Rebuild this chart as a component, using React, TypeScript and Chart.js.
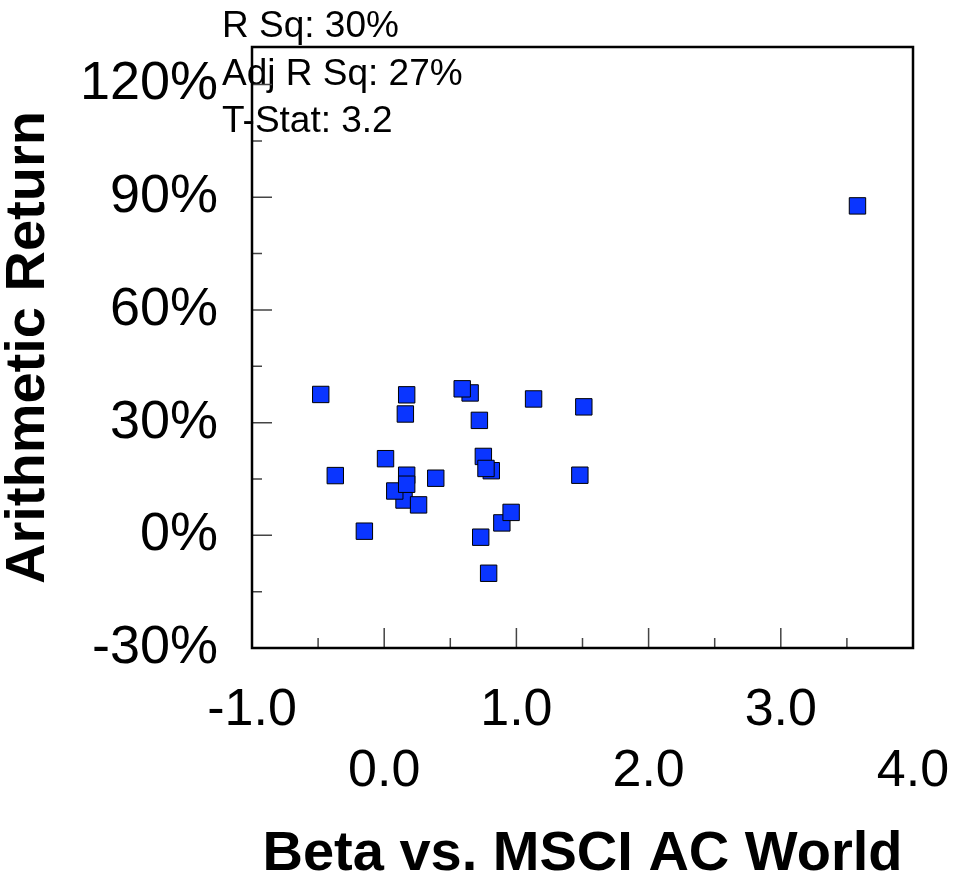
import React, { useEffect, useRef } from "react";
import { Chart, registerables } from "chart.js";

Chart.register(...registerables);

// Data
const betaValues = [
  -0.48, 0.17, 0.65, 0.59, 1.13, 1.51, 0.16, 0.72, 0.01, 0.75, -0.37, 0.81, 0.77,
  1.48, 0.15, 0.26, 0.08, 0.17, 0.17, 0.39, -0.15, 0.89, 0.96, 0.73, 0.79, 3.58,
];
const returnValues = [
  37.5, 37.4, 37.9, 39.0, 36.3, 34.2, 32.3, 30.6, 20.4, 21.0, 15.9, 17.2, 17.8,
  16.0, 9.4, 8.1, 11.8, 16.0, 13.6, 15.2, 1.1, 3.3, 6.1, -0.5, -10.1, 87.7,
];

const xTickValues = [-1, 0, 1, 2, 3, 4];
const xMinorTicks = [-0.5, 0.5, 1.5, 2.5, 3.5];
const yTickValues = [-30, 0, 30, 60, 90, 120];
const yMinorTicks = [-15, 15, 45, 75, 105];

const statLines = ["R Sq: 30%", "Adj R Sq: 27%", "T-Stat: 3.2"];
const xTitle = "Beta vs. MSCI AC World";
const yTitle = "Arithmetic Return";

const FONT = "'Liberation Sans', Arial, sans-serif";

const framePlugin = {
  id: "frameTicks",
  afterDraw(chart: any) {
    const { ctx, chartArea } = chart;
    const xs = chart.scales.x;
    const ys = chart.scales.y;
    const { left, right, top, bottom } = chartArea;
    ctx.save();

    // stats text
    ctx.fillStyle = "#000";
    ctx.font = `37px ${FONT}`;
    ctx.textAlign = "left";
    ctx.textBaseline = "alphabetic";
    statLines.forEach((t, i) => {
      ctx.fillText(t, left - 30, top - 10 + i * 47.5);
    });

    // ticks (inward)
    ctx.strokeStyle = "#444";
    ctx.lineWidth = 1.5;
    ctx.beginPath();
    xTickValues.forEach((v) => {
      const px = xs.getPixelForValue(v);
      ctx.moveTo(px, bottom);
      ctx.lineTo(px, bottom - 20);
    });
    xMinorTicks.forEach((v) => {
      const px = xs.getPixelForValue(v);
      ctx.moveTo(px, bottom);
      ctx.lineTo(px, bottom - 10);
    });
    yTickValues.forEach((v) => {
      const py = ys.getPixelForValue(v);
      ctx.moveTo(left, py);
      ctx.lineTo(left + 20, py);
    });
    yMinorTicks.forEach((v) => {
      const py = ys.getPixelForValue(v);
      ctx.moveTo(left, py);
      ctx.lineTo(left + 10, py);
    });
    ctx.stroke();

    // frame
    ctx.strokeStyle = "#000";
    ctx.lineWidth = 2.5;
    ctx.strokeRect(left, top, right - left, bottom - top);
    ctx.restore();
  },
};

export default function App() {
  const ref = useRef<HTMLCanvasElement | null>(null);

  useEffect(() => {
    document.body.style.margin = "0";
    const canvas = ref.current;
    if (!canvas) return;
    const points = betaValues.map((b, i) => ({ x: b, y: returnValues[i] }));
    const chart = new Chart(canvas, {
      type: "scatter",
      data: {
        datasets: [
          {
            data: points,
            pointStyle: "rect",
            pointRadius: 11.6,
            pointHoverRadius: 11.6,
            backgroundColor: "#0A35FF",
            borderColor: "#000",
            borderWidth: 1,
          },
        ],
      },
      options: {
        animation: false,
        responsive: false,
        devicePixelRatio: 1,
        events: [],
        layout: { padding: { top: 47, right: 42, bottom: 0, left: 0 } },
        plugins: {
          legend: { display: false },
          tooltip: { enabled: false },
        },
        scales: {
          x: {
            type: "linear",
            min: -1,
            max: 4,
            grid: { display: false, drawTicks: false },
            border: { display: false },
            afterBuildTicks: (scale: any) => {
              scale.ticks = xTickValues.map((v) => ({ value: v }));
            },
            afterFit: (scale: any) => {
              scale.height = 227;
              scale.paddingLeft = 0;
              scale.paddingRight = 0;
            },
            ticks: {
              autoSkip: false,
              maxRotation: 0,
              minRotation: 0,
              padding: 32,
              color: "#000",
              font: { family: FONT, size: 52, lineHeight: 1.175 },
              callback: (value: any, index: number) => {
                const label = Number(value).toFixed(1);
                return index % 2 === 0 ? [label] : ["", label];
              },
            },
            title: {
              display: true,
              text: xTitle,
              color: "#000",
              font: { family: FONT, size: 56, weight: "bold", lineHeight: 1 },
              padding: { top: 0, bottom: -8 },
            },
          },
          y: {
            type: "linear",
            min: -30,
            max: 130,
            grid: { display: false, drawTicks: false },
            border: { display: false },
            afterBuildTicks: (scale: any) => {
              scale.ticks = yTickValues.map((v) => ({ value: v }));
            },
            afterFit: (scale: any) => {
              scale.width = 252;
              scale.paddingTop = 0;
              scale.paddingBottom = 0;
            },
            ticks: {
              autoSkip: false,
              padding: 34,
              color: "#000",
              font: { family: FONT, size: 54 },
              callback: (value: any) => `${value}%`,
            },
            title: {
              display: true,
              text: yTitle,
              color: "#000",
              font: { family: FONT, size: 56, weight: "bold", lineHeight: 1 },
              padding: { top: 1, bottom: 0 },
            },
          },
        },
      },
      plugins: [framePlugin],
    });
    return () => chart.destroy();
  }, []);

  return (
    <div style={{ width: 955, height: 875 }}>
      <canvas ref={ref} width={955} height={875} style={{ display: "block" }} />
    </div>
  );
}
